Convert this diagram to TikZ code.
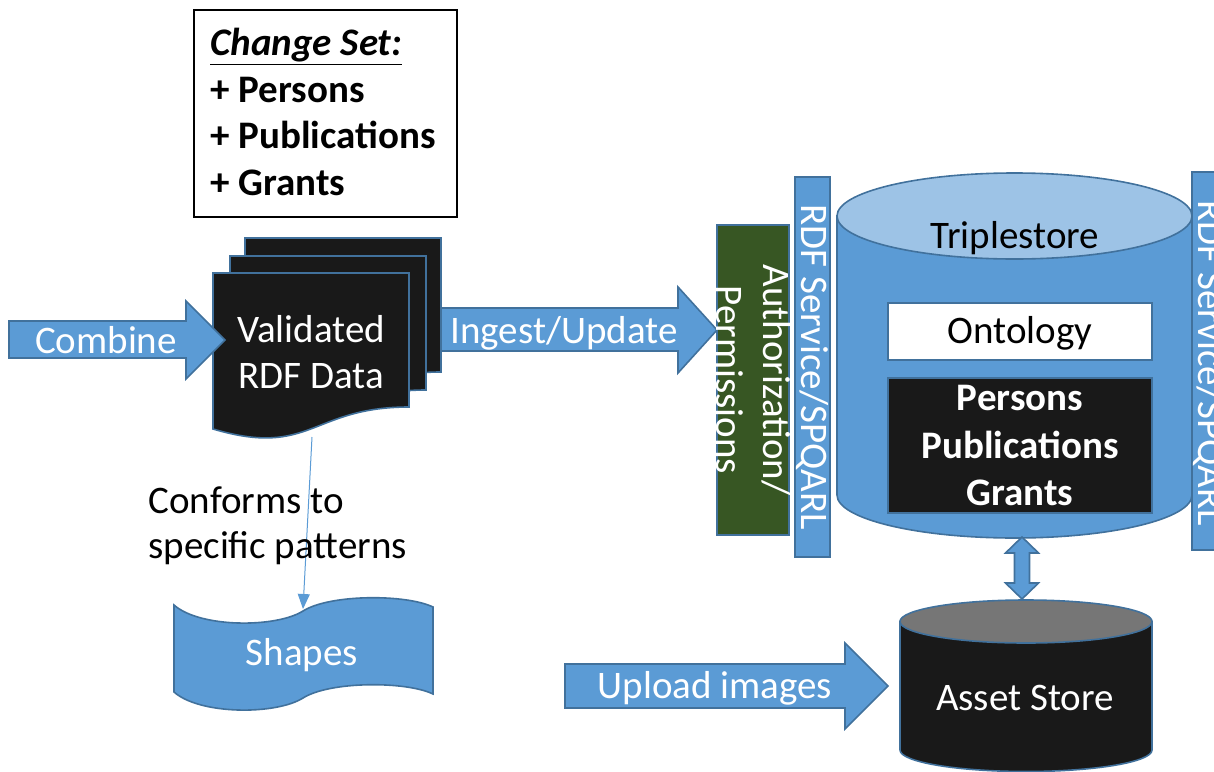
\documentclass[tikz,border=0pt]{standalone}
\usepackage{fontspec}
\setmainfont{Carlito}
\usetikzlibrary{arrows.meta}
\definecolor{pblue}{HTML}{5B9BD5}
\definecolor{pborder}{HTML}{41719C}
\definecolor{plight}{HTML}{9DC3E6}
\definecolor{pgreen}{HTML}{375623}
\definecolor{pblack}{HTML}{191919}
\definecolor{pgray}{HTML}{767676}
\newcommand\bigf{\fontsize{19.5}{23.4}\selectfont}
\newcommand\rdfdoc[2]{\filldraw[docshape] (#1,#2) -- (#1+196,#2) -- (#1+196,#2+134) .. controls (#1+98,#2+134) and (#1+98,#2+185) .. (#1,#2+156) -- cycle;}
\tikzset{
  bluebox/.style={fill=pblue, draw=pborder, line width=0.8pt},
  docshape/.style={fill=pblack, draw=pborder, line width=0.8pt},
  wtext/.style={text=white, font=\bigf, inner sep=0pt},
  ktext/.style={text=black, font=\bigf, inner sep=0pt},
}
\begin{document}
\begin{tikzpicture}[x=0.5pt, y=-0.5pt]
\useasboundingbox (0,0) rectangle (1214,771);

% Change set box
\draw[black, line width=0.8pt, fill=white] (194,10) rectangle (457,217);
\node[ktext, anchor=base west, font=\bigf\bfseries\itshape] (cs0) at (210,55) {\underline{Change Set:}};
\node[ktext, anchor=base west, font=\bigf\bfseries] (cs1) at (210,102) {+ Persons};
\node[ktext, anchor=base west, font=\bigf\bfseries] (cs2) at (210,148) {+ Publications};
\node[ktext, anchor=base west, font=\bigf\bfseries] (cs3) at (210,195) {+ Grants};

% Ingest/Update arrow
\filldraw[bluebox] (430,308) -- (678,308) -- (678,287) -- (717,330) -- (678,373) -- (678,351) -- (430,351) -- cycle;
\node[wtext, anchor=base] (ingest) at (564,343) {Ingest/Update};

% document stack
\rdfdoc{245}{238}
\rdfdoc{230}{256}
\rdfdoc{213}{273}
\node[wtext, anchor=base] (val1) at (311,342) {Validated};
\node[wtext, anchor=base] (val2) at (311,388) {RDF Data};

% Combine arrow
\filldraw[bluebox] (9,321) -- (186,321) -- (186,301) -- (225,340) -- (186,379) -- (186,358) -- (9,358) -- cycle;
\node[wtext, anchor=base] (combine) at (106,353) {Combine};

% Shapes tape
\filldraw[bluebox] (174,605) .. controls (200,628) and (276,628) .. (303,611) .. controls (330,594) and (406,594) .. (433,607) -- (433,694) .. controls (406,681) and (330,681) .. (303,698) .. controls (276,715) and (200,715) .. (174,692) -- cycle;
\node[wtext, anchor=base] (shapes) at (302,665) {Shapes};

% conforms arrow
\coordinate (docbot) at (312,437);
\coordinate (shapetop) at (303,609);
\draw[pblue, line width=0.5pt, -{Triangle[length=7.5pt,width=6pt]}] (docbot) -- (shapetop);
\node[ktext, anchor=base west] (conf1) at (148,513) {Conforms to};
\node[ktext, anchor=base west] (conf2) at (148,558) {specific patterns};

% Authorization box
\filldraw[fill=pgreen, draw=pborder, line width=0.8pt] (717,225) rectangle (789,535);
\node[wtext, rotate=-90, align=center, font=\bigf] (auth) at (753,380) {Authorization/\\Permissions};

% RDF service bars
\filldraw[bluebox] (795,177) rectangle (830,557);
\node[wtext, rotate=-90] (rdf1) at (812.5,367) {RDF Service/SPQARL};

% Triplestore cylinder
\filldraw[bluebox] (837,216) -- (837,495) .. controls (837,518.7) and (916.6,538) .. (1014.5,538) .. controls (1112.4,538) and (1192,518.7) .. (1192,495) -- (1192,216) -- cycle;
\filldraw[fill=plight, draw=pborder, line width=0.8pt] (1014.5,216) ellipse [x radius=88.75pt, y radius=21.5pt];
\node[ktext, anchor=base] (triple) at (1015,248) {Triplestore};
\filldraw[fill=white, draw=pborder, line width=0.8pt] (888,303) rectangle (1152,360);
\node[ktext, anchor=base] (onto) at (1020,343) {Ontology};
\filldraw[fill=pblack, draw=pborder, line width=0.8pt] (888,378) rectangle (1152,513);
\node[wtext, anchor=base, font=\bigf\bfseries] (p1) at (1020,410) {Persons};
\node[wtext, anchor=base, font=\bigf\bfseries] (p2) at (1020,458) {Publications};
\node[wtext, anchor=base, font=\bigf\bfseries] (p3) at (1020,505) {Grants};

\filldraw[bluebox] (1192,172) rectangle (1227,550);
\node[wtext, rotate=-90] (rdf2) at (1209.5,363) {RDF Service/SPQARL};

% double arrow
\coordinate (tsbot) at (1022,537);
\coordinate (astop) at (1022,599);
\filldraw[bluebox] (tsbot) -- ([shift={(16.5,16)}]tsbot) -- ([shift={(7.5,16)}]tsbot) -- ([shift={(7.5,-16)}]astop) -- ([shift={(16.5,-16)}]astop) -- (astop) -- ([shift={(-16.5,-16)}]astop) -- ([shift={(-7.5,-16)}]astop) -- ([shift={(-7.5,16)}]tsbot) -- ([shift={(-16.5,16)}]tsbot) -- cycle;

% Asset store
\filldraw[fill=pblack, draw=pborder, line width=0.8pt] (900,621.5) -- (900,750) .. controls (900,761.9) and (956.4,771.5) .. (1026,771.5) .. controls (1095.6,771.5) and (1152,761.9) .. (1152,750) -- (1152,621.5) -- cycle;
\filldraw[fill=pgray, draw=pborder, line width=0.8pt] (1026,621.5) ellipse [x radius=63pt, y radius=10.75pt];
\node[wtext, anchor=base] (asset) at (1025,710) {Asset Store};

% Upload arrow
\filldraw[bluebox] (565,664) -- (845,664) -- (845,643) -- (888,686) -- (845,729) -- (845,708) -- (565,708) -- cycle;
\node[wtext, anchor=base] (upload) at (715,698) {Upload images};
\end{tikzpicture}
\end{document}
